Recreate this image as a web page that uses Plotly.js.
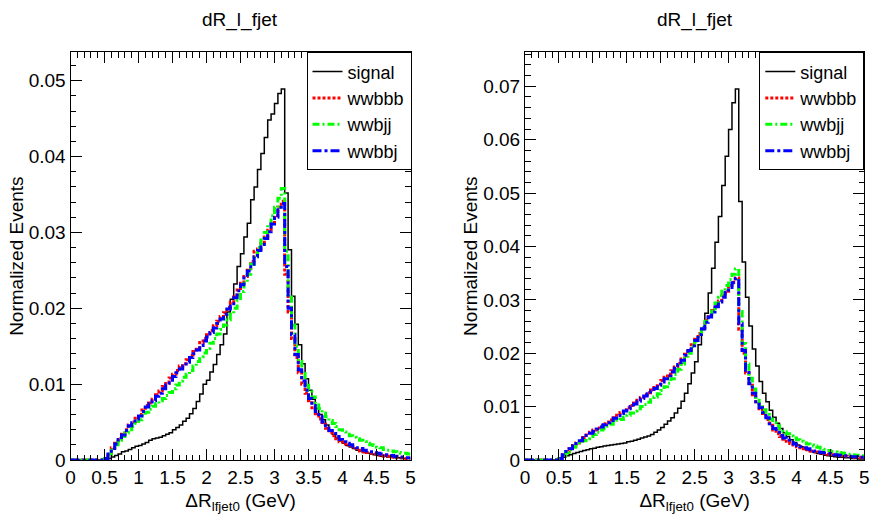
<!DOCTYPE html>
<html><head><meta charset="utf-8">
<script src="https://cdn.plot.ly/plotly-3.0.1.min.js"></script>
<style>html,body{margin:0;padding:0;background:#fff}#chart{width:872px;height:514px}</style>
</head><body><div id="chart"></div>
<script>
// Binning: 100 bins from 0 to 5
const xMin = 0, binWidth = 0.05, nBins = 100;
const seriesNames = ['signal','wwbbb','wwbjj','wwbbj'];
const panelTitles = ['dR_l_fjet','dR_l_fjet'];

const signalL = [0,0,0,0,0,0,0,0,0,0,
0.0001,0.0002,0.0004,0.0006,0.0008,0.0011,0.0012,0.0014,0.0016,0.0018,
0.0019,0.0021,0.0023,0.0026,0.0028,0.0029,0.0030,0.0032,0.0034,0.0036,
0.0040,0.0043,0.0046,0.0051,0.0055,0.0061,0.0068,0.0077,0.0087,0.0100,
0.0105,0.0116,0.0126,0.0139,0.0152,0.0166,0.0195,0.0212,0.0232,0.0255,
0.0272,0.0294,0.0312,0.0343,0.0360,0.0383,0.0404,0.0425,0.0448,0.0456,
0.0470,0.0483,0.0489,0.0352,0.0277,0.0216,0.0179,0.0152,0.0127,0.0107,
0.0092,0.0080,0.0068,0.0060,0.0053,0.0046,0.0040,0.0034,0.0029,0.0025,
0.0022,0.0019,0.0017,0.0015,0.0013,0.0012,0.0010,0.0009,0.0008,0.0007,
0.0006,0.0005,0.0005,0.0004,0.0004,0.0003,0.0003,0.0002,0.0002,0.0002];

const wwbbbL = [0,0,0,0,0,0,0,0,0,0,
0.0002,0.0008,0.0016,0.0022,0.0028,0.0034,0.0040,0.0046,0.0050,0.0055,
0.0060,0.0066,0.0072,0.0075,0.0080,0.0086,0.0091,0.0097,0.0101,0.0108,
0.0113,0.0118,0.0124,0.0127,0.0132,0.0138,0.0143,0.0148,0.0155,0.0160,
0.0165,0.0171,0.0177,0.0183,0.0189,0.0194,0.0201,0.0208,0.0215,0.0224,
0.0233,0.0242,0.0250,0.0262,0.0275,0.0278,0.0286,0.0294,0.0303,0.0313,
0.0322,0.0333,0.0341,0.0245,0.0195,0.0160,0.0135,0.0115,0.0100,0.0088,
0.0078,0.0069,0.0061,0.0054,0.0047,0.0042,0.0036,0.0032,0.0028,0.0024,
0.0021,0.0019,0.0017,0.0015,0.0013,0.0012,0.0011,0.0010,0.0009,0.0008,
0.0007,0.0006,0.0005,0.0005,0.0004,0.0004,0.0003,0.0003,0.0002,0.0002];

const wwbjjL = [0,0,0,0,0,0,0,0,0,0,
0.0002,0.0008,0.0015,0.0020,0.0026,0.0031,0.0036,0.0040,0.0044,0.0048,
0.0053,0.0058,0.0063,0.0067,0.0071,0.0074,0.0078,0.0081,0.0085,0.0089,
0.0094,0.0099,0.0104,0.0109,0.0113,0.0118,0.0124,0.0130,0.0136,0.0141,
0.0147,0.0154,0.0160,0.0166,0.0172,0.0178,0.0185,0.0192,0.0200,0.0210,
0.0222,0.0233,0.0245,0.0258,0.0270,0.0280,0.0290,0.0300,0.0311,0.0322,
0.0333,0.0345,0.0358,0.0275,0.0215,0.0178,0.0150,0.0130,0.0114,0.0102,
0.0092,0.0083,0.0075,0.0068,0.0062,0.0057,0.0052,0.0048,0.0044,0.0040,
0.0037,0.0034,0.0032,0.0030,0.0028,0.0026,0.0024,0.0022,0.0020,0.0019,
0.0017,0.0016,0.0014,0.0013,0.0012,0.0011,0.0010,0.0009,0.0009,0.0008];

const wwbbjL = [0,0,0,0,0,0,0,0,0,0,
0.0002,0.0008,0.0015,0.0021,0.0027,0.0033,0.0039,0.0045,0.0049,0.0054,
0.0058,0.0064,0.0070,0.0074,0.0078,0.0084,0.0088,0.0094,0.0099,0.0105,
0.0110,0.0115,0.0120,0.0124,0.0129,0.0135,0.0140,0.0145,0.0151,0.0157,
0.0162,0.0168,0.0174,0.0180,0.0186,0.0192,0.0199,0.0206,0.0214,0.0223,
0.0231,0.0240,0.0249,0.0258,0.0268,0.0276,0.0284,0.0292,0.0301,0.0311,
0.0320,0.0330,0.0338,0.0255,0.0200,0.0165,0.0139,0.0119,0.0104,0.0092,
0.0081,0.0072,0.0064,0.0057,0.0050,0.0045,0.0039,0.0035,0.0031,0.0027,
0.0024,0.0022,0.0020,0.0018,0.0016,0.0015,0.0013,0.0012,0.0011,0.0010,
0.0009,0.0008,0.0007,0.0006,0.0006,0.0005,0.0004,0.0004,0.0003,0.0003];

const signalR = [0,0,0,0,0,0,0,0,0,0,
0.0002,0.0005,0.0008,0.0010,0.0012,0.0014,0.0016,0.0018,0.0019,0.0021,
0.0022,0.0024,0.0025,0.0026,0.0027,0.0028,0.0029,0.0030,0.0031,0.0032,
0.0034,0.0035,0.0037,0.0039,0.0041,0.0043,0.0045,0.0048,0.0052,0.0056,
0.0061,0.0067,0.0073,0.0079,0.0088,0.0097,0.0110,0.0125,0.0143,0.0163,
0.0184,0.0216,0.0244,0.0275,0.0313,0.0359,0.0408,0.0456,0.0514,0.0569,
0.0619,0.0669,0.0695,0.0484,0.0371,0.0305,0.0251,0.0208,0.0176,0.0147,
0.0125,0.0109,0.0093,0.0080,0.0069,0.0059,0.0051,0.0044,0.0038,0.0033,
0.0028,0.0025,0.0022,0.0019,0.0016,0.0014,0.0012,0.0011,0.0009,0.0008,
0.0007,0.0006,0.0005,0.0005,0.0004,0.0004,0.0003,0.0003,0.0002,0.0002];

const wwbbbR = [0,0,0,0,0,0,0,0,0,0,
0.0003,0.0010,0.0016,0.0021,0.0027,0.0032,0.0037,0.0042,0.0047,0.0052,
0.0056,0.0060,0.0064,0.0068,0.0071,0.0075,0.0079,0.0084,0.0089,0.0094,
0.0098,0.0102,0.0107,0.0112,0.0117,0.0122,0.0126,0.0131,0.0136,0.0142,
0.0149,0.0155,0.0161,0.0167,0.0174,0.0181,0.0189,0.0198,0.0207,0.0216,
0.0226,0.0237,0.0248,0.0262,0.0272,0.0280,0.0290,0.0298,0.0307,0.0316,
0.0324,0.0333,0.0341,0.0245,0.0200,0.0163,0.0140,0.0122,0.0106,0.0096,
0.0087,0.0076,0.0065,0.0056,0.0049,0.0044,0.0039,0.0035,0.0031,0.0028,
0.0025,0.0023,0.0021,0.0019,0.0017,0.0015,0.0014,0.0013,0.0012,0.0011,
0.0010,0.0009,0.0008,0.0008,0.0007,0.0006,0.0006,0.0005,0.0005,0.0004];

const wwbjjR = [0,0,0,0,0,0,0,0,0,0,
0.0003,0.0009,0.0014,0.0019,0.0024,0.0028,0.0032,0.0036,0.0040,0.0044,
0.0048,0.0052,0.0056,0.0059,0.0063,0.0067,0.0071,0.0074,0.0076,0.0080,
0.0084,0.0088,0.0092,0.0096,0.0100,0.0104,0.0108,0.0113,0.0118,0.0124,
0.0130,0.0137,0.0144,0.0152,0.0160,0.0170,0.0180,0.0190,0.0200,0.0212,
0.0223,0.0236,0.0248,0.0260,0.0272,0.0283,0.0294,0.0305,0.0316,0.0327,
0.0338,0.0348,0.0358,0.0278,0.0218,0.0180,0.0153,0.0133,0.0117,0.0104,
0.0094,0.0085,0.0077,0.0070,0.0064,0.0058,0.0053,0.0049,0.0045,0.0041,
0.0038,0.0035,0.0032,0.0030,0.0028,0.0026,0.0024,0.0022,0.0020,0.0018,
0.0016,0.0015,0.0014,0.0013,0.0012,0.0011,0.0010,0.0009,0.0009,0.0008];

const wwbbjR = [0,0,0,0,0,0,0,0,0,0,
0.0003,0.0010,0.0016,0.0021,0.0026,0.0031,0.0036,0.0041,0.0046,0.0050,
0.0054,0.0058,0.0062,0.0066,0.0070,0.0074,0.0078,0.0083,0.0087,0.0092,
0.0096,0.0100,0.0105,0.0110,0.0115,0.0120,0.0124,0.0129,0.0134,0.0140,
0.0146,0.0152,0.0158,0.0165,0.0172,0.0179,0.0187,0.0196,0.0205,0.0214,
0.0224,0.0235,0.0246,0.0258,0.0268,0.0277,0.0287,0.0296,0.0305,0.0314,
0.0323,0.0332,0.0340,0.0255,0.0205,0.0168,0.0143,0.0125,0.0109,0.0098,
0.0089,0.0079,0.0068,0.0059,0.0052,0.0046,0.0041,0.0037,0.0033,0.0030,
0.0027,0.0025,0.0023,0.0021,0.0019,0.0017,0.0015,0.0014,0.0013,0.0012,
0.0011,0.0010,0.0009,0.0008,0.0008,0.0007,0.0006,0.0006,0.0005,0.0005];

const edges = [];
for (let i = 0; i <= nBins; i++) edges.push(+(xMin + i * binWidth).toFixed(4));

const FONT = 'Liberation Sans, Arial, Helvetica, sans-serif';
const FS = 19;
const styles = [
  {color:'#000000', width:1.5, dash:'solid'},
  {color:'#ff0000', width:3, dash:'3px,2px'},
  {color:'#00ff00', width:3, dash:'7px,3px,2px,3px'},
  {color:'#0000ff', width:3, dash:'9px,3px,3px,3px'}
];

function stepTrace(vals, i, xa, ya, legendName) {
  return {
    type:'scatter', mode:'lines', x: edges, y: vals.concat([vals[vals.length-1]]),
    line: Object.assign({shape:'hv'}, styles[i]),
    name: seriesNames[i], xaxis: xa, yaxis: ya, legend: legendName,
    legendgroup: legendName + seriesNames[i], hoverinfo:'skip'
  };
}

const left = [signalL, wwbbbL, wwbjjL, wwbbjL];
const right = [signalR, wwbbbR, wwbjjR, wwbbjR];
const data = [];
left.forEach((v,i) => data.push(stepTrace(v, i, 'x', 'y', 'legend')));
right.forEach((v,i) => data.push(stepTrace(v, i, 'x2', 'y2', 'legend2')));

function xAxis(domain, anchor) {
  return {domain, anchor, range:[0,5], dtick:0.5, tick0:0, ticks:'inside', ticklen:11,
    tickcolor:'#000', showline:true, linecolor:'#000', linewidth:1, mirror:'ticks',
    showgrid:false, zeroline:false, tickfont:{family:FONT, size:FS, color:'#000'},
    minor:{dtick:0.1, ticks:'inside', ticklen:5.5, tickcolor:'#000', showgrid:false},
    title:{text:'ΔR<sub>lfjet0</sub> (GeV)', font:{family:FONT, size:FS, color:'#000'}, standoff:6},
    fixedrange:true};
}
function yAxis(domain, anchor, top) {
  return {domain, anchor, range:[0, top], dtick:0.01, tick0:0, ticks:'inside', ticklen:11,
    tickcolor:'#000', showline:true, linecolor:'#000', linewidth:1, mirror:'ticks',
    showgrid:false, zeroline:false, tickfont:{family:FONT, size:FS, color:'#000'},
    minor:{dtick:0.002, ticks:'inside', ticklen:5.5, tickcolor:'#000', showgrid:false},
    title:{text:'Normalized Events', font:{family:FONT, size:FS, color:'#000'}, standoff:0},
    fixedrange:true};
}

const yDom = [(514-460)/514, (514-52.3)/514];
const legendCommon = {xanchor:'right', yanchor:'top', bgcolor:'#fff', bordercolor:'#000', borderwidth:1,
  font:{family:FONT, size:18, color:'#000'}, itemwidth:30, tracegroupgap:0, traceorder:'grouped'};

const layout = {
  width:872, height:514, margin:{l:0, r:0, t:0, b:0},
  paper_bgcolor:'#fff', plot_bgcolor:'#fff', showlegend:true,
  xaxis: xAxis([70.5/872, 410.5/872], 'y'),
  yaxis: yAxis(yDom, 'x', 0.05374),
  xaxis2: xAxis([525/872, 864.3/872], 'y2'),
  yaxis2: yAxis(yDom, 'x2', 0.07637),
  legend: Object.assign({x:411.5/872, y:yDom[1]}, legendCommon),
  legend2: Object.assign({x:864.3/872, y:yDom[1]}, legendCommon),
  annotations: [
    {text:panelTitles[0], xref:'paper', yref:'paper', x:240/872, y:(514-20)/514, showarrow:false,
     xanchor:'center', yanchor:'middle', font:{family:FONT, size:FS, color:'#000'}},
    {text:panelTitles[1], xref:'paper', yref:'paper', x:695/872, y:(514-20)/514, showarrow:false,
     xanchor:'center', yanchor:'middle', font:{family:FONT, size:FS, color:'#000'}}
  ]
};
Plotly.newPlot('chart', data, layout, {staticPlot:true, displayModeBar:false});
</script></body></html>
